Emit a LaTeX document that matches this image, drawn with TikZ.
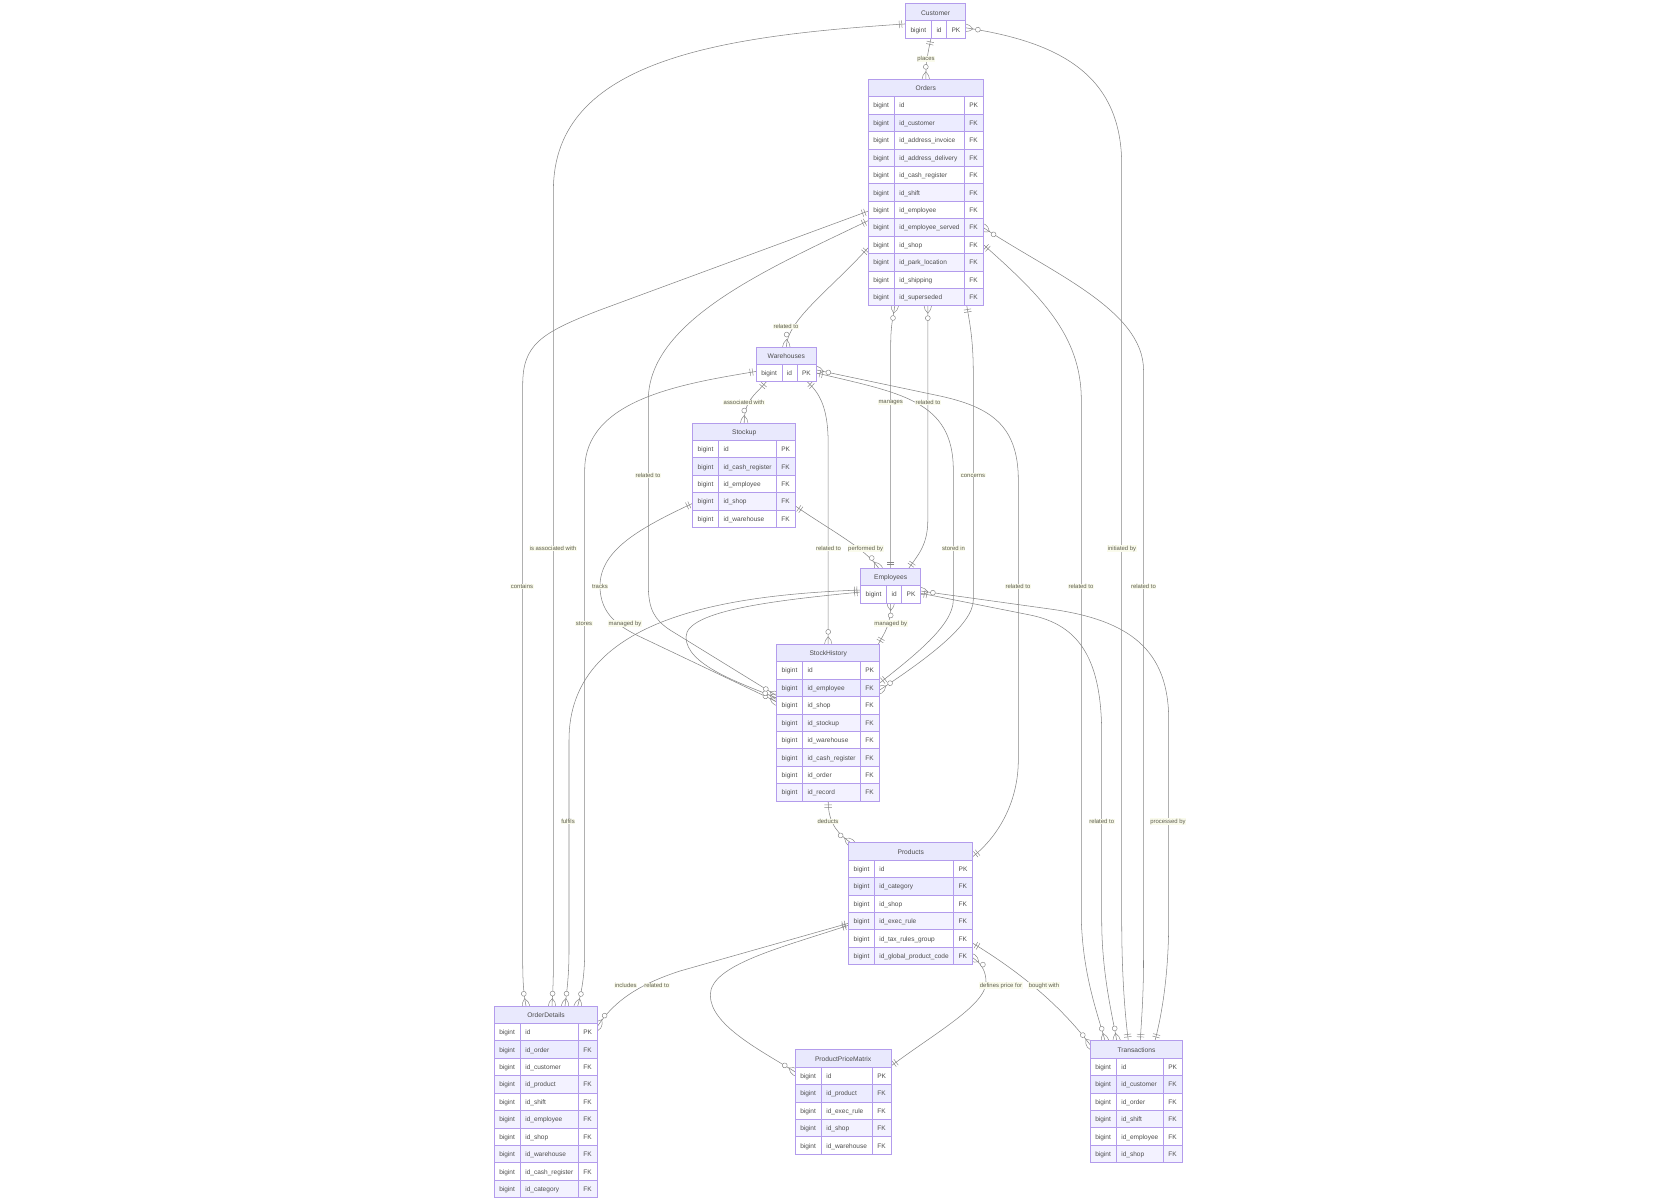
\documentclass[tikz,border=0pt]{standalone}
\usepackage{fontspec}
\setmainfont{Liberation Sans}
\usetikzlibrary{calc}
\usetikzlibrary{decorations.markings}

\pgfdeclarelayer{edges}
\pgfsetlayers{edges,main}

\definecolor{tableline}{HTML}{B39CEC}
\definecolor{headfill}{HTML}{E9E9FD}
\definecolor{rowdark}{HTML}{ECECFF}
\definecolor{rowlight}{HTML}{F3F2FF}
\definecolor{relline}{HTML}{858585}
\definecolor{labelfill}{HTML}{FAFBEC}
\definecolor{labeltext}{HTML}{5E5E50}

\tikzset{
  x=0.75pt,y=-0.75pt,
  every node/.style={font=\fontsize{4.9}{5.6}\selectfont},
  tableframe/.style={draw=tableline,line width=0.6pt,inner sep=0pt,outer sep=0pt,anchor=north west},
  tablehead/.style={tableframe,fill=headfill,text=black!70,minimum height=13.07pt,text height=5.4pt,text depth=1pt,
    font=\fontsize{5}{5.6}\selectfont},
  tablecell/.style={tableframe,text=black!70,minimum height=13.07pt,inner xsep=3.75pt,inner ysep=0pt,
    align=left,text height=4.7pt,text depth=1pt},
  rellabel/.style={fill=labelfill,text=labeltext,inner xsep=0.4pt,inner ysep=0.3pt,yshift=-0.35pt,
    font=\fontsize{4.45}{5}\selectfont},
  rel/.style={draw=relline,line width=0.4pt},
  relmark/.style={draw=relline,line width=0.35pt},
  onestart/.style={postaction={decorate,decoration={markings,mark=at position 0 with {\markone}}}},
  manystart/.style={postaction={decorate,decoration={markings,mark=at position 0 with {\markmany}}}},
  oneend/.style={postaction={decorate,decoration={markings,mark=at position -0.1pt with {\begin{scope}[xscale=-1]\markone\end{scope}}}}},
  manyend/.style={postaction={decorate,decoration={markings,mark=at position -0.1pt with {\begin{scope}[xscale=-1]\markmany\end{scope}}}}},
}

\newcommand{\markone}{%
  \draw[relmark] (3.7,-3.7) -- (3.7,3.7) (6.2,-3.7) -- (6.2,3.7);}
\newcommand{\markmany}{%
  \draw[relmark] (-7.4,0) .. controls (-2.47,4.93) and (2.47,4.93) .. (7.4,0)
    .. controls (2.47,-4.93) and (-2.47,-4.93) .. (-7.4,0);
  \draw[relmark,fill=white] (12.3,0) circle[radius=2.46];}

% name, title, left, top, type width, column width, table width, rows
\newcommand{\ertable}[8]{%
  \foreach \colname [count=\i] in {#8} {\global\let\rowtotal\i}
  \node[tableframe,minimum width=0.75pt*#7,minimum height=13.07pt*(\rowtotal+1)] (#1) at (#3,#4) {};
  \node[tablehead,minimum width=0.75pt*#7] (#1-head) at (#1.north west) {#2};
  \foreach \colname [count=\i] in {#8} {
    \ifnum\i=2 \def\rowfill{rowdark}\else\ifodd\i \def\rowfill{white}\else \def\rowfill{rowlight}\fi\fi
    \ifnum\i=1 \def\rowkey{PK}\else \def\rowkey{FK}\fi
    \node[tablecell,fill=\rowfill,text width=0.75pt*(#5-10)] (#1-\i-type) at ($(#1.north west)+(0,17.43*\i)$) {bigint};
    \node[tablecell,fill=\rowfill,text width=0.75pt*(#6-10)] (#1-\i-col) at (#1-\i-type.north east) {\colname};
    \node[tablecell,fill=\rowfill,text width=0.75pt*(#7-#5-#6-10)] (#1-\i-key) at (#1-\i-col.north east) {\rowkey};
  }
}

\begin{document}
\begin{tikzpicture}
\useasboundingbox (0,0) rectangle (1680,1201);

\ertable{Customer}{Customer}{905.5}{3.4}{26}{15}{60.2}{id}
\ertable{Orders}{Orders}{868.3}{79.3}{26}{70}{115}{id,id\_customer,id\_address\_invoice,id\_address\_delivery,id\_cash\_register,id\_shift,id\_employee,id\_employee\_served,id\_shop,id\_park\_location,id\_shipping,id\_superseded}
\ertable{Warehouses}{Warehouses}{756.3}{347}{25.7}{15}{60}{id}
\ertable{Stockup}{Stockup}{692.7}{423}{26}{57.6}{103}{id,id\_cash\_register,id\_employee,id\_shop,id\_warehouse}
\ertable{Employees}{Employees}{860.7}{568.3}{26}{15}{60}{id}
\ertable{StockHistory}{StockHistory}{776.7}{644.3}{26}{57.6}{103}{id,id\_employee,id\_shop,id\_stockup,id\_warehouse,id\_cash\_register,id\_order,id\_record}
\ertable{Products}{Products}{848.7}{842.7}{25.6}{79.4}{124}{id,id\_category,id\_shop,id\_exec\_rule,id\_tax\_rules\_group,id\_global\_product\_code}
\ertable{OrderDetails}{OrderDetails}{494.3}{1006}{26}{58}{103.4}{id,id\_order,id\_customer,id\_product,id\_shift,id\_employee,id\_shop,id\_warehouse,id\_cash\_register,id\_category}
\ertable{ProductPriceMatrix}{ProductPriceMatrix}{795.3}{1049.7}{26}{51}{95.7}{id,id\_product,id\_exec\_rule,id\_shop,id\_warehouse}
\ertable{Transactions}{Transactions}{1090.3}{1040.7}{26}{47}{92.4}{id,id\_customer,id\_order,id\_shift,id\_employee,id\_shop}

\begin{pgfonlayer}{edges}
\draw[rel,onestart,manyend] ($(Customer.south)+(-4.6,0)$) .. controls (928,52) and (925.8,62) .. (Orders.north);
\draw[rel,onestart,manyend] ($(Customer.west)+(0,3.1)$) .. controls (720,36) and (553.4,60) .. (553.4,190) -- (553.4,960) .. controls (553.4,985) and (552.5,995) .. ($(OrderDetails.north)+(6,0)$);
\draw[rel,manystart,oneend] ($(Customer.east)+(0,7)$) .. controls (1060,42) and (1121.7,75) .. (1121.7,165) -- (1121.7,920) .. controls (1121.7,975) and (1125,1015) .. ($(Transactions.north)+(-8.2,0)$);
\draw[rel,onestart,manyend] ($(Orders.west)+(0,18.5)$) -- (600,310) .. controls (540,333) and (522.7,345) .. (522.7,385) -- (522.7,960) .. controls (522.7,985) and (524,995) .. ($(OrderDetails.north)+(-20,0)$);
\draw[rel,onestart,manyend] ($(Orders.west)+(0,28)$) .. controls (770,268) and (648.3,320) .. (648.3,400) -- (648.3,585) .. controls (648.3,610) and (655,620) .. (670,630) -- ($(StockHistory.west)+(0,-27)$);
\draw[rel,manystart,oneend] ($(Orders.south)+(-31,0)$) .. controls (893,318) and (890.7,325) .. (890.7,345) -- (Employees.north);
\draw[rel,manystart,oneend] ($(Orders.south)+(2,0)$) -- (927.8,520) .. controls (927.8,545) and (918,555) .. ($(Employees.north)+(18,0)$);
\draw[rel,onestart,manyend] ($(Orders.south)+(41,0)$) .. controls (970,325) and (973.3,340) .. (973.3,375) -- (973.3,600) .. controls (973.3,625) and (925,660) .. ($(StockHistory.east)+(0,-32.7)$);
\draw[rel,onestart,manyend] ($(Orders.west)+(0,55)$) .. controls (830,290) and (787,320) .. (Warehouses.north);
\draw[rel,manystart,oneend] ($(Orders.east)+(0,35)$) .. controls (1050,272) and (1143.5,310) .. (1143.5,370) -- (1143.5,960) .. controls (1143.5,1000) and (1141,1025) .. ($(Transactions.north)+(3.8,0)$);
\draw[rel,onestart,manyend] ($(Orders.east)+(0,52)$) .. controls (1040,295) and (1081.3,335) .. (1081.3,400) -- (1081.3,920) .. controls (1083,975) and (1097,1012) .. ($(Transactions.north)+(-31.5,0)$);
\draw[rel,onestart,manyend] ($(Warehouses.south)+(-20,0)$) .. controls (755,395) and (744.2,400) .. (Stockup.north);
\draw[rel,onestart,manyend] ($(Warehouses.south)+(21,0)$) .. controls (822,395) and (828.2,412) .. (828.2,445) -- (StockHistory.north);
\draw[rel,onestart,manyend] ($(Warehouses.west)+(0,7)$) .. controls (680,384) and (584.7,400) .. (584.7,470) -- (584.7,950) .. controls (584.7,975) and (582,990) .. ($(OrderDetails.north)+(31.7,0)$);
\draw[rel,manystart,oneend] ($(Warehouses.east)+(0,5.5)$) -- (940,396) .. controls (990,407) and (1018.3,425) .. (1018.3,480) -- (1018.3,760) .. controls (1018.3,800) and (1000,835) .. ($(Products.east)+(0,-47)$);
\draw[rel,onestart,oneend] ($(Warehouses.east)+(0,8.5)$) .. controls (900,393) and (953.3,400) .. (953.3,470) -- (953.3,600) .. controls (953.3,625) and (915,655) .. ($(StockHistory.east)+(0,-39.7)$);
\draw[rel,onestart,manyend] ($(Stockup.east)+(0,31)$) .. controls (830,530) and (865,548) .. ($(Employees.north)+(-12,0)$);
\draw[rel,onestart,manyend] ($(Stockup.west)+(0,28)$) .. controls (640,528) and (600,550) .. (600,586) .. controls (600,615) and (620,627) .. (640,636.7) -- ($(StockHistory.west)+(0,-21)$);
\draw[rel,manystart,oneend] (Employees.south) .. controls (890.7,625) and (885,632) .. ($(StockHistory.north)+(50,0)$);
\draw[rel,onestart,manyend] ($(Employees.west)+(0,4.3)$) .. controls (720,595) and (569,620) .. (569,740) -- (569,950) .. controls (569,975) and (567,990) .. ($(OrderDetails.north)+(19,0)$);
\draw[rel,onestart,manyend] ($(Employees.west)+(0,6.3)$) .. controls (780,600) and (686,610) .. (686,637) .. controls (686,665) and (740,683) .. ($(StockHistory.west)+(0,-24.7)$);
\draw[rel,manystart,oneend] ($(Employees.east)+(0,5.3)$) -- (1050,609) .. controls (1130,620) and (1168.7,650) .. (1168.7,720) -- (1168.7,920) .. controls (1168.7,970) and (1163,1010) .. ($(Transactions.north)+(18.5,0)$);
\draw[rel,onestart,manyend] ($(Employees.east)+(0,7.5)$) -- (1030,615) .. controls (1080,625) and (1101.7,660) .. (1101.7,735) -- (1101.7,920) .. controls (1101.7,975) and (1113,1018) .. ($(Transactions.north)+(-19.8,0)$);
\draw[rel,onestart,manyend] (StockHistory.south) .. controls (828,825) and (840,835) .. ($(Products.north)+(-60,0)$);
\draw[rel,onestart,manyend] ($(Products.west)+(0,19.5)$) -- (680,971) .. controls (640,984) and (615,1000) .. ($(OrderDetails.east)+(0,-75.9)$);
\draw[rel,onestart,manyend] ($(Products.west)+(0,21.5)$) .. controls (780,948) and (710.3,965) .. (710.3,995) .. controls (710.3,1025) and (760,1050) .. ($(ProductPriceMatrix.west)+(0,-30)$);
\draw[rel,onestart,manyend] ($(Products.east)+(0,39.5)$) .. controls (1020,972) and (1060,1005) .. ($(Transactions.west)+(0,-56.7)$);
\draw[rel,manystart,oneend] ($(Products.east)+(0,54)$) .. controls (982,964) and (986,972) .. (986,982) .. controls (986,1005) and (935,1033) .. ($(ProductPriceMatrix.east)+(0,-36)$);
\end{pgfonlayer}

\node[rellabel] (l-places) at (926,58.7) {places};
\node[rellabel] (l-associated) at (553,548) {is associated with};
\node[rellabel] (l-initiated) at (1122,548) {initiated by};
\node[rellabel] (l-contains) at (522,586) {contains};
\node[rellabel] (l-orderstock) at (648,475) {related to};
\node[rellabel] (l-concerns) at (973,475) {concerns};
\node[rellabel] (l-manages) at (890.7,402) {manages};
\node[rellabel] (l-orderemp) at (928,402) {related to};
\node[rellabel] (l-stockup) at (744,402) {associated with};
\node[rellabel] (l-orderware) at (786,326) {related to};
\node[rellabel] (l-tracks) at (600,586) {tracks};
\node[rellabel] (l-ordertrans) at (1081,586) {related to};
\node[rellabel] (l-ordertrans2) at (1143.5,586) {related to};
\node[rellabel] (l-wareprod) at (1018,586) {related to};
\node[rellabel] (l-warestock) at (828.5,548) {related to};
\node[rellabel] (l-performed) at (865.7,548) {performed by};
\node[rellabel] (l-stored) at (953.5,548) {stored in};
\node[rellabel] (l-stores) at (584,623) {stores};
\node[rellabel] (l-managed) at (625,623) {managed by};
\node[rellabel] (l-managed2) at (890.7,623) {managed by};
\node[rellabel] (l-fulfils) at (568,821) {fulfils};
\node[rellabel] (l-deducts) at (828,821) {deducts};
\node[rellabel] (l-emptrans) at (1101.7,821) {related to};
\node[rellabel] (l-processed) at (1168,821) {processed by};
\node[rellabel] (l-includes) at (625.7,985) {includes};
\node[rellabel] (l-prodorder) at (656.7,985) {related to};
\node[rellabel] (l-defines) at (1001,985) {defines price for};
\node[rellabel] (l-bought) at (1044,985) {bought with};
\end{tikzpicture}
\end{document}
